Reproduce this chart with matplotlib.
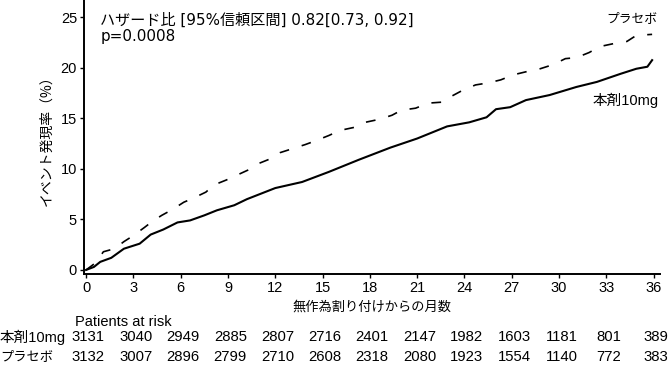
import matplotlib
matplotlib.use("Agg")
import matplotlib.pyplot as plt
from matplotlib.transforms import blended_transform_factory

# 累積イベント発現率（読み取り値）
months_active = [0, 0.5, 0.9, 1.6, 2.4, 3.4, 4.1, 4.9, 5.8, 6.6, 7.5, 8.3, 9.4, 10.2,
                 12.0, 13.7, 15.4, 17.3, 18.3, 19.3, 21.0, 22.9, 24.3, 25.4, 26.0, 26.9,
                 27.9, 29.4, 31.1, 32.4, 33.9, 34.9, 35.6, 35.9]
rate_active = [0, 0.3, 0.8, 1.2, 2.1, 2.6, 3.5, 4.0, 4.7, 4.9, 5.4, 5.9, 6.4, 7.0,
               8.1, 8.7, 9.7, 10.9, 11.5, 12.1, 13.0, 14.2, 14.6, 15.1, 15.9, 16.1,
               16.8, 17.3, 18.1, 18.6, 19.4, 19.9, 20.1, 20.75]

months_placebo = [0, 0.6, 1.1, 1.8, 2.4, 3.0, 3.7, 4.2, 4.8, 5.5, 6.2, 6.8, 7.6, 8.1,
                  8.9, 9.6, 10.3, 10.9, 11.7, 12.3, 13.1, 13.9, 14.6, 15.4, 16.1, 17.0,
                  17.7, 18.6, 19.4, 20.0, 20.9, 21.7, 22.6, 23.2, 23.8, 24.7, 25.5, 26.3,
                  27.1, 27.9, 28.8, 29.6, 30.4, 31.1, 31.9, 32.6, 33.5, 34.3, 34.9, 35.9]
rate_placebo = [0, 0.7, 1.8, 2.1, 2.8, 3.4, 4.2, 4.8, 5.4, 6.0, 6.7, 7.1, 7.7, 8.4,
                8.9, 9.4, 9.9, 10.5, 11.0, 11.6, 12.0, 12.4, 12.8, 13.3, 13.8, 14.1,
                14.6, 14.9, 15.3, 15.8, 16.0, 16.5, 16.6, 17.2, 17.7, 18.3, 18.5, 18.8,
                19.3, 19.6, 19.9, 20.3, 20.9, 21.0, 21.5, 22.1, 22.4, 22.6, 23.2, 23.3]

# Patients at risk
risk_months = [0, 3, 6, 9, 12, 15, 18, 21, 24, 27, 30, 33, 36]
risk_active = [3131, 3040, 2949, 2885, 2807, 2716, 2401, 2147, 1982, 1603, 1181, 801, 389]
risk_placebo = [3132, 3007, 2896, 2799, 2710, 2608, 2318, 2080, 1923, 1554, 1140, 772, 383]

y_ticks = [0, 5, 10, 15, 20, 25]

JP = ["Noto Sans CJK JP", "DejaVu Sans"]
LAT = ["Liberation Sans", "Noto Sans CJK JP"]
WIDE = ["DejaVu Sans", "Noto Sans CJK JP"]

plt.rcParams["lines.scale_dashes"] = False

fig = plt.figure(figsize=(6.69, 3.65), dpi=100)
ax = fig.add_axes([84 / 669, 1 - 274 / 365, 576 / 669, 274 / 365])

ax.plot(months_active, rate_active, color="black", lw=1.5)
ax.plot(months_placebo, rate_placebo, color="black", lw=1.2, dashes=(7, 9.5))

ax.set_xlim(-0.13, 36.4)
ax.set_ylim(-0.4, 26.7)
ax.set_xticks(risk_months)
ax.set_yticks(y_ticks)
for s in ["top", "right"]:
    ax.spines[s].set_visible(False)
for s in ["left", "bottom"]:
    ax.spines[s].set_linewidth(1.4)
ax.tick_params(direction="out", length=3, width=1, pad=2)
for lab in ax.get_xticklabels() + ax.get_yticklabels():
    lab.set_family(LAT)
    lab.set_fontsize(10.5)

ax.set_xlabel("無作為割り付けからの月数", family=JP, fontsize=9.5, labelpad=4)
ax.set_ylabel("イベント発現率（%）", family=JP, fontsize=10, labelpad=5)

ax.text(0.9, 24.75, "ハザード比 [95%信頼区間] 0.82[0.73, 0.92]", family=WIDE,
        fontsize=10.9, va="center", ha="left")
ax.text(0.9, 23.05, "p=0.0008", family=WIDE, fontsize=10.9, va="center", ha="left")

ax.text(34.6, 24.9, "プラセボ", family=JP, fontsize=9.2, ha="center", va="center")
ax.text(34.2, 16.8, "本剤10mg", family=LAT, fontsize=10.5, ha="center", va="center")

# Patients at risk table
tr = blended_transform_factory(ax.transData, fig.transFigure)
fig.text(75 / 669, 1 - 322 / 365, "Patients at risk", family=LAT, fontsize=10.5,
         ha="left", va="center")
fig.text(0.0, 1 - 337 / 365, "本剤10mg", family=LAT, fontsize=10.5, ha="left", va="center")
fig.text(0.0, 1 - 357 / 365, "プラセボ", family=JP, fontsize=9.5, ha="left", va="center")
for m, a, p in zip(risk_months, risk_active, risk_placebo):
    ax.text(m + 0.15, 1 - 337 / 365, str(a), transform=tr, family=LAT, fontsize=10.7,
            ha="center", va="center")
    ax.text(m + 0.15, 1 - 357 / 365, str(p), transform=tr, family=LAT, fontsize=10.7,
            ha="center", va="center")

fig.savefig("out.png", dpi=100)
